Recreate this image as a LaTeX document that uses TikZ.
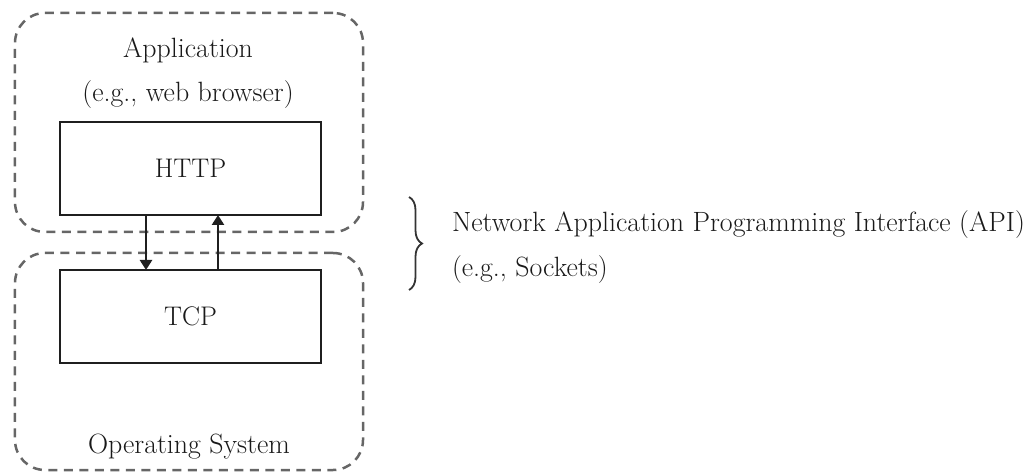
\documentclass[tikz,border=0pt]{standalone}
\usetikzlibrary{arrows.meta,decorations.pathreplacing}
\begin{document}
\begin{tikzpicture}[x=1bp,y=-1bp,
  every node/.style={inner sep=0pt,outer sep=0pt,text=black!90},
  txt/.style={font=\fontsize{28}{32}\selectfont,anchor=base},
  container/.style={draw=black!60,line width=2.5bp,dash pattern=on 9bp off 6.5bp,
    rounded corners=30bp,rectangle},
  layerbox/.style={draw=black!88,line width=2.5bp,rectangle,fill=white,
    minimum width=261bp,minimum height=93bp,font=\fontsize{27}{32}\selectfont},
  flow/.style={draw=black!88,line width=2.5bp,-{Triangle[length=10bp,width=12bp]}},
  bracket/.style={draw=black!80,line width=1.8bp,decorate,
    decoration={brace,amplitude=13bp}}]
\useasboundingbox (0,0) rectangle (1029,475);

% dashed containers: application and operating system
\node[container,minimum width=348bp,minimum height=219bp] (app) at (189,122.5) {};
\node[container,minimum width=348bp,minimum height=217bp] (os) at (189,361.5) {};

% layer boxes
\node[layerbox] (http) at (190.5,168.5) {HTTP};
\node[layerbox] (tcp) at (190.5,316.5) {TCP};

% container labels
\node[txt] (applbl) at (188,58) {Application};
\node[txt] (appeg) at (188,102) {(e.g., web browser)};
\node[txt] (oslbl) at (189,453) {Operating System};

% calls across the socket interface
\draw[flow] ([xshift=-44.5bp]http.south) -- ([xshift=-44.5bp]tcp.north);
\draw[flow] ([xshift=27.5bp]tcp.north) -- ([xshift=27.5bp]http.south);

% interface annotation
\coordinate (btop) at (409,197);
\coordinate (bbot) at (409,290);
\draw[bracket] (btop) -- (bbot);
\node[txt,anchor=base west] (api) at (452,232) {Network Application Programming Interface (API)};
\node[txt,anchor=base west] (apieg) at (452,277) {(e.g., Sockets)};
\end{tikzpicture}
\end{document}
